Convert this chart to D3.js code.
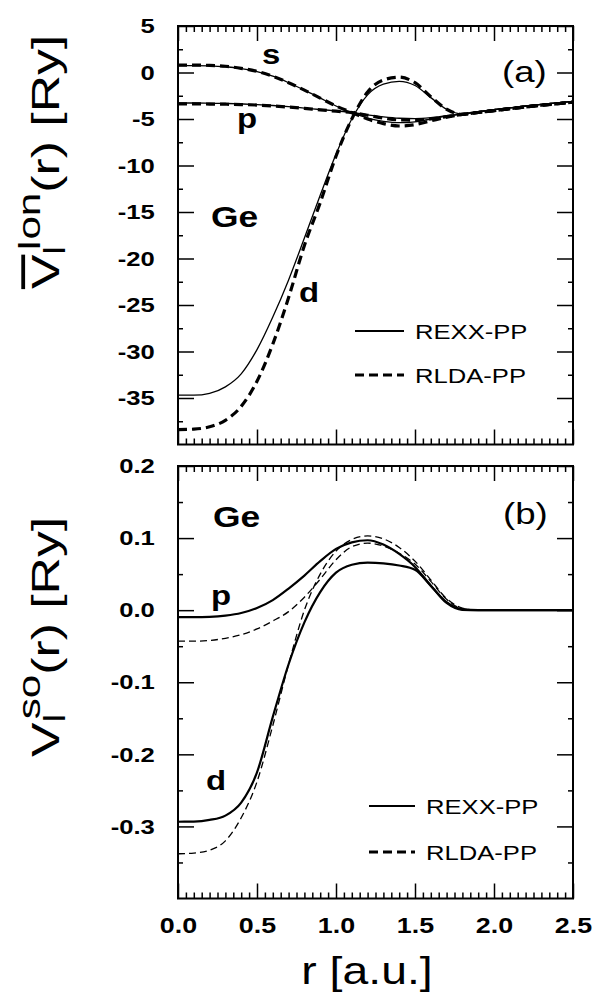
<!DOCTYPE html>
<html>
<head>
<meta charset="utf-8">
<script src="https://cdnjs.cloudflare.com/ajax/libs/d3/7.8.5/d3.min.js"></script>
<style>
  body { margin: 0; background: #fff; }
  svg { display: block; }
  text { font-family: 'Liberation Sans', Arial, Helvetica, sans-serif; fill: #000; }
  .tick text { font-weight: bold; font-size: 21px; }
  .tick line { stroke: #000; stroke-width: 1.5; }
  .domain { display: none; }
</style>
</head>
<body>
<script>
// Radial grid (a.u.)
var rGrid = [0.0, 0.1, 0.2, 0.3, 0.4, 0.5, 0.6, 0.7, 0.8, 0.9, 1.0, 1.1, 1.2,
             1.3, 1.4, 1.5, 1.6, 1.7, 1.8, 1.9, 2.0, 2.1, 2.2, 2.3, 2.4, 2.5];

// Panel (a): ionic pseudopotentials [Ry]
var sIonRexx = [0.75, 0.75, 0.72, 0.62, 0.42, 0.1, -0.4, -1.1, -1.9, -2.75, -3.6, -4.3, -4.9,
                -5.25, -5.4, -5.3, -5.0, -4.7, -4.45, -4.22, -4.0, -3.8, -3.6, -3.42, -3.26, -3.1];
var sIonRlda = [0.8, 0.8, 0.77, 0.67, 0.45, 0.12, -0.4, -1.1, -1.9, -2.75, -3.6, -4.3, -5.0,
                -5.5, -5.75, -5.6, -5.2, -4.8, -4.5, -4.3, -4.1, -3.9, -3.7, -3.52, -3.36, -3.2];
var pIonRexx = [-3.28, -3.28, -3.3, -3.33, -3.38, -3.45, -3.55, -3.68, -3.83, -3.98, -4.13, -4.3, -4.55,
                -4.78, -4.92, -4.95, -4.85, -4.65, -4.45, -4.22, -4.0, -3.8, -3.6, -3.42, -3.26, -3.1];
var pIonRlda = [-3.38, -3.38, -3.39, -3.41, -3.45, -3.5, -3.6, -3.72, -3.86, -4.02, -4.16, -4.32, -4.6,
                -4.9, -5.1, -5.12, -5.0, -4.75, -4.5, -4.3, -4.1, -3.9, -3.7, -3.52, -3.36, -3.2];
var dIonRexx = [-34.7, -34.7, -34.5, -33.8, -32.4, -29.8, -26.3, -22.3, -17.8, -13.2, -8.8, -5.0, -2.4,
                -1.25, -0.95, -1.4, -2.7, -3.95, -4.45, -4.22, -4.0, -3.8, -3.6, -3.42, -3.26, -3.1];
var dIonRlda = [-38.4, -38.35, -38.1, -37.4, -35.9, -33.2, -29.2, -24.2, -18.6, -14.0, -9.0, -5.0, -2.1,
                -0.8, -0.5, -1.1, -2.6, -3.95, -4.5, -4.3, -4.1, -3.9, -3.7, -3.52, -3.36, -3.2];

// Panel (b): spin-orbit pseudopotentials [Ry]
var pSoRexx = [-0.0097, -0.0097, -0.0092, -0.0075, -0.004, 0.003, 0.014, 0.03, 0.048, 0.068, 0.085, 0.094, 0.097,
               0.091, 0.078, 0.06, 0.034, 0.011, 0.001, 0, 0, 0, 0, 0, 0, 0];
var pSoRlda = [-0.043, -0.043, -0.042, -0.039, -0.034, -0.026, -0.015, -0.002, 0.018, 0.043, 0.07, 0.088, 0.093,
               0.089, 0.079, 0.064, 0.04, 0.015, 0.002, 0, 0, 0, 0, 0, 0, 0];
var dSoRexx = [-0.2935, -0.2933, -0.291, -0.285, -0.267, -0.225, -0.148, -0.075, -0.017, 0.025, 0.052, 0.063, 0.066,
               0.065, 0.062, 0.056, 0.034, 0.01, 0.0005, 0, 0, 0, 0, 0, 0, 0];
var dSoRlda = [-0.338, -0.337, -0.333, -0.32, -0.288, -0.238, -0.16, -0.075, 0.0, 0.05, 0.082, 0.098, 0.103,
               0.099, 0.087, 0.068, 0.042, 0.016, 0.003, 0, 0, 0, 0, 0, 0, 0];

// Tick labels
var xTicks = [0.0, 0.5, 1.0, 1.5, 2.0, 2.5];
var ionTicks = [5, 0, -5, -10, -15, -20, -25, -30, -35];
var soTicks = [0.2, 0.1, 0.0, -0.1, -0.2, -0.3];

var width = 595, height = 994;
var left = 178, right = 573;
var stretch = 1.22; // the source lettering is wider than Arial

var loc = d3.formatLocale({ decimal: '.', thousands: ',', grouping: [3], currency: ['', ''], minus: '-' });

var svg = d3.select('body').append('svg')
  .attr('width', width)
  .attr('height', height);

var x = d3.scaleLinear().domain([0, 2.5]).range([left, right]);

function zip(vals) {
  return rGrid.map(function(r, i) { return [r, vals[i]]; });
}

// Wide text anchored at (px, py).
function wideText(px, py, txt, size, bold, anchor) {
  return svg.append('text')
    .attr('transform', 'translate(' + px + ',' + py + ') scale(' + stretch + ',1)')
    .attr('text-anchor', anchor || 'start')
    .style('font-size', size + 'px')
    .style('font-weight', bold ? 'bold' : 'normal')
    .text(txt);
}

function drawPanel(opts) {
  var y = d3.scaleLinear().domain(opts.domain).range([opts.top, opts.bottom]);
  var g = svg.append('g');

  // Minor ticks first, then major ones.
  g.append('g').attr('transform', 'translate(' + left + ',0)')
    .call(d3.axisLeft(y).tickValues(opts.minor).tickSize(-5).tickFormat(''));
  g.append('g').attr('transform', 'translate(' + right + ',0)')
    .call(d3.axisRight(y).tickValues(opts.minor).tickSize(-5).tickFormat(''));
  var ya = g.append('g').attr('transform', 'translate(' + left + ',0)')
    .call(d3.axisLeft(y).tickValues(opts.ticks).tickSize(-16).tickPadding(19)
      .tickFormat(loc.format(opts.fmt)));
  ya.selectAll('text').attr('transform', 'scale(' + stretch + ',1)');
  g.append('g').attr('transform', 'translate(' + right + ',0)')
    .call(d3.axisRight(y).tickValues(opts.ticks).tickSize(-16).tickFormat(''));

  var xMinor = d3.range(0, 2.5001, 0.05).filter(function(v) { return Math.abs(v * 2 - Math.round(v * 2)) > 1e-6; });
  g.append('g').attr('transform', 'translate(0,' + opts.top + ')')
    .call(d3.axisTop(x).tickValues(xMinor).tickSize(-6).tickFormat(''));
  g.append('g').attr('transform', 'translate(0,' + opts.top + ')')
    .call(d3.axisTop(x).tickValues(xTicks).tickSize(-15).tickFormat(''));
  g.append('g').attr('transform', 'translate(0,' + opts.bottom + ')')
    .call(d3.axisBottom(x).tickValues(xMinor).tickSize(-6).tickFormat(''));
  var xb = g.append('g').attr('transform', 'translate(0,' + opts.bottom + ')')
    .call(d3.axisBottom(x).tickValues(xTicks).tickSize(-15).tickPadding(19)
      .tickFormat(opts.xLabels ? loc.format('.1f') : ''));
  xb.selectAll('text')
    .style('font-size', '22px')
    .attr('transform', 'scale(' + stretch + ',1)');

  // Frame.
  g.append('rect')
    .attr('x', left).attr('y', opts.top)
    .attr('width', right - left).attr('height', opts.bottom - opts.top)
    .attr('fill', 'none').attr('stroke', '#000').attr('stroke-width', 2);

  var line = d3.line()
    .x(function(d) { return x(d[0]); })
    .y(function(d) { return y(d[1]); })
    .curve(d3.curveMonotoneX);

  opts.series.forEach(function(s) {
    g.append('path')
      .datum(zip(s.values))
      .attr('d', line)
      .attr('fill', 'none')
      .attr('stroke', '#000')
      .attr('stroke-width', s.dashed ? opts.dashW : opts.solidW)
      .attr('stroke-dasharray', s.dashed ? opts.dash : null);
  });

  // Legend.
  [['REXX-PP', false], ['RLDA-PP', true]].forEach(function(d, i) {
    var ly = opts.legend.y + i * opts.legend.gap;
    g.append('line')
      .attr('x1', opts.legend.x).attr('x2', opts.legend.x + opts.legend.len)
      .attr('y1', ly).attr('y2', ly)
      .attr('stroke', '#000')
      .attr('stroke-width', d[1] ? 3.2 : 1.8)
      .attr('stroke-dasharray', d[1] ? '9,5' : null);
    wideText(opts.legend.x + opts.legend.len + 11, ly + 7.5, d[0], 21, false);
  });

  // Curve and panel labels.
  opts.labels.forEach(function(l) {
    wideText(l.x, l.y, l.text, l.size, l.bold);
  });

  return y;
}

// Panel (a).
drawPanel({
  domain: [5, -40], top: 26, bottom: 444.5,
  ticks: ionTicks, minor: [2.5, -2.5, -7.5, -12.5, -17.5, -22.5, -27.5, -32.5, -37.5],
  fmt: 'd', xLabels: false,
  solidW: 1.3, dashW: 3.2, dash: '9,5',
  series: [
    { values: sIonRexx }, { values: sIonRlda, dashed: true },
    { values: pIonRexx }, { values: pIonRlda, dashed: true },
    { values: dIonRexx }, { values: dIonRlda, dashed: true }
  ],
  legend: { x: 355, len: 49, y: 331, gap: 44 },
  labels: [
    { text: 's', x: 262, y: 64, size: 27, bold: true },
    { text: 'p', x: 237, y: 128, size: 27, bold: true },
    { text: 'Ge', x: 211, y: 227, size: 29, bold: true },
    { text: 'd', x: 299, y: 302, size: 27, bold: true },
    { text: '(a)', x: 502, y: 82, size: 30, bold: false }
  ]
});

// Panel (b).
drawPanel({
  domain: [0.2, -0.4], top: 466, bottom: 898.5,
  ticks: soTicks, minor: [0.15, 0.05, -0.05, -0.15, -0.25, -0.35],
  fmt: '.1f', xLabels: true,
  solidW: 2.2, dashW: 1.3, dash: '7,4',
  series: [
    { values: pSoRexx }, { values: pSoRlda, dashed: true },
    { values: dSoRexx }, { values: dSoRlda, dashed: true }
  ],
  legend: { x: 369, len: 46, y: 806, gap: 46 },
  labels: [
    { text: 'Ge', x: 213, y: 527, size: 29, bold: true },
    { text: 'p', x: 211, y: 605, size: 27, bold: true },
    { text: 'd', x: 206, y: 790, size: 27, bold: true },
    { text: '(b)', x: 503, y: 524, size: 30, bold: false }
  ]
});

// Axis titles.
wideText(367, 984, 'r [a.u.]', 38, false, 'middle');

function yTitle(cx, cy, sup, bar) {
  var t = svg.append('text')
    .attr('transform', 'translate(' + cx + ',' + cy + ') rotate(-90) scale(1.36,1)')
    .attr('text-anchor', 'middle')
    .style('font-size', '38px');
  t.append('tspan').text('V')
    .style('text-decoration', bar ? 'overline' : null);
  t.append('tspan').attr('dy', 6).style('font-size', '29px').text('l');
  t.append('tspan').attr('dx', -4).attr('dy', -25).style('font-size', '31px').text(sup);
  t.append('tspan').attr('dy', 19).text('(r) [Ry]');
}
yTitle(59, 162, 'Ion', true);
yTitle(59, 637, 'so', false);
</script>
</body>
</html>
